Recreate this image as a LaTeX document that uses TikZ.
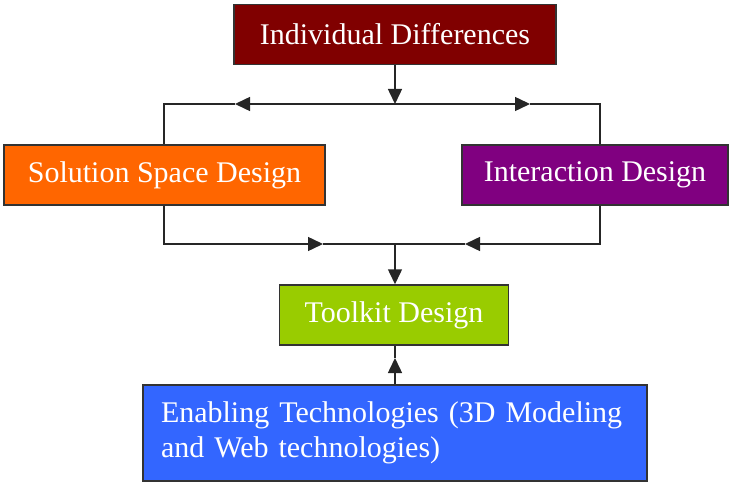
\documentclass[tikz,border=0pt]{standalone}
\usepackage{fontspec}
\setmainfont{Liberation Serif}
\usetikzlibrary{arrows.meta}

\definecolor{boxred}{HTML}{800000}
\definecolor{boxorange}{HTML}{FF6600}
\definecolor{boxpurple}{HTML}{800080}
\definecolor{boxgreen}{HTML}{99CC00}
\definecolor{boxblue}{HTML}{3366FF}

\begin{document}
\begin{tikzpicture}[x=1pt,y=-1pt,line width=1.5pt,black!85,
    box/.style={draw=black!80,text=white,inner sep=0pt,
      minimum height=60pt,font=\fontsize{30}{35}\selectfont},
    arr/.style={-{Triangle[length=15pt,width=14pt]}}]
  \useasboundingbox (0,0) rectangle (737,484);

  \node[box,fill=boxred,minimum width=322pt]    (indiv)    at (395,34.5) {Individual Differences};
  \node[box,fill=boxorange,minimum width=321pt] (solution) at (164.5,175) {Solution Space Design};
  \node[box,fill=boxpurple,minimum width=266pt] (interact) at (595,175) {Interaction Design};
  \node[box,fill=boxgreen,minimum width=229pt]  (toolkit)  at (394,315) {Toolkit Design};
  \node[box,fill=boxblue,minimum width=504pt,minimum height=96pt,
        text width=468pt,align=left]            (enabling) at (395,433)
        {Enabling Technologies (3D Modeling\\and Web technologies)};

  % split below the top box
  \coordinate (topj) at (395,104);
  \coordinate (ltip) at (235,104);
  \coordinate (rtip) at (530,104);
  \coordinate (ltop) at (164,104);
  \coordinate (rtop) at (600,104);
  \draw[arr] (indiv.south -| topj) -- (topj);
  \draw[arr] (topj) -- (ltip);
  \draw (ltip) -- (ltop) -- (ltop |- solution.north);
  \draw[arr] (topj) -- (rtip);
  \draw (rtip) -- (rtop) -- (rtop |- interact.north);

  % merge above the toolkit box
  \coordinate (botj) at (395,244);
  \coordinate (lbot) at (323,244);
  \coordinate (rbot) at (465,244);
  \draw[arr] (ltop |- solution.south) |- (lbot);
  \draw (lbot) -- (botj);
  \draw[arr] (rtop |- interact.south) |- (rbot);
  \draw (rbot) -- (botj);
  \draw[arr] (botj) -- (botj |- toolkit.north);

  \coordinate (upj) at (395,358);
  \draw[arr] (enabling.north -| upj) -- (upj);
  \draw (upj) -- (upj |- toolkit.south);
\end{tikzpicture}
\end{document}
